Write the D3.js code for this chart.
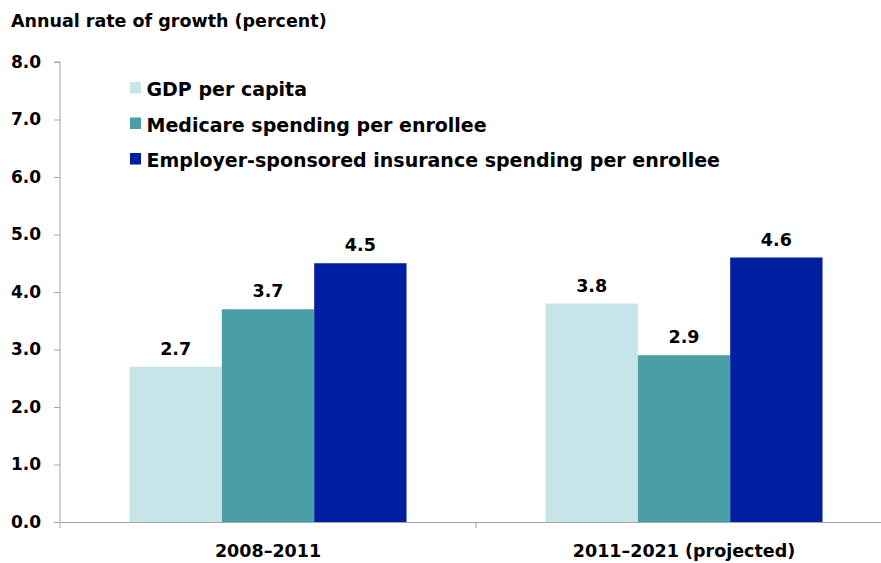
<!DOCTYPE html>
<html lang="en">
  <head>
    <meta charset="utf-8">
    <title>Annual rate of growth</title>
    <script src="https://d3js.org/d3.v7.min.js"></script>
    <style>
      body { margin: 0; background: white; }
      text { font-family: "DejaVu Sans", Arial, sans-serif; font-weight: bold; fill: black; }
    </style>
  </head>
  <body>
    <script>
      // data
      var categories = ["2008\u20132011", "2011\u20132021 (projected)"];
      var seriesNames = ["GDP per capita", "Medicare spending per enrollee", "Employer-sponsored insurance spending per enrollee"];
      var gdpValues = [2.7, 3.8];
      var medicareValues = [3.7, 2.9];
      var employerValues = [4.5, 4.6];
      var yTicks = [0, 1, 2, 3, 4, 5, 6, 7, 8];
      var colors = ["#c7e5e8", "#4a9ea6", "#001ea0"];

      var allSeries = [gdpValues, medicareValues, employerValues];

      var w = 881, h = 563;
      var margin = {top: 62, right: -11, bottom: 41, left: 60};
      var innerW = w - margin.left - margin.right;
      var innerH = h - margin.top - margin.bottom;
      var fontFam = "'DejaVu Sans', Arial, sans-serif";

      var svg = d3.select("body").append("svg")
          .attr("width", w)
          .attr("height", h);

      svg.append("text")
          .attr("x", 11)
          .attr("y", 27)
          .style("font-size", "17.5px")
          .text("Annual rate of growth (percent)");

      var g = svg.append("g")
          .attr("transform", `translate(${margin.left}, ${margin.top})`);

      var x0 = d3.scaleBand()
          .domain(categories)
          .range([0, innerW]);

      var x1 = d3.scaleBand()
          .domain(seriesNames)
          .range([x0.bandwidth() * 0.167, x0.bandwidth() * 0.833]);

      var y = d3.scaleLinear()
          .domain([0, 8])
          .range([innerH, 0]);

      // bars
      categories.forEach(function(c, ci) {
        seriesNames.forEach(function(s, si) {
          var v = allSeries[si][ci];
          g.append("rect")
              .attr("x", x0(c) + x1(s))
              .attr("y", y(v))
              .attr("width", x1.bandwidth())
              .attr("height", innerH - y(v))
              .attr("fill", colors[si]);
          g.append("text")
              .attr("x", x0(c) + x1(s) + x1.bandwidth() / 2)
              .attr("y", y(v) - 12)
              .attr("text-anchor", "middle")
              .style("font-size", "17.5px")
              .text(v.toFixed(1));
        });
      });

      // y axis
      var yAxis = d3.axisLeft(y)
          .tickValues(yTicks)
          .tickSize(6)
          .tickPadding(13)
          .tickFormat(d3.format(".1f"));

      var ya = g.append("g").call(yAxis);
      ya.selectAll("path, line").attr("stroke", "#a6a6a6");
      ya.select(".domain").attr("d", `M-6,0H0V${innerH}`);
      ya.selectAll("text")
          .style("font-size", "17px")
          .style("font-family", fontFam)
          .attr("fill", "black");

      // x axis
      var xAxis = d3.axisBottom(x0)
          .tickSize(0)
          .tickPadding(23);

      var xa = g.append("g")
          .attr("transform", `translate(0, ${innerH})`)
          .call(xAxis);
      xa.select(".domain").attr("stroke", "#a6a6a6");
      xa.selectAll("text")
          .style("font-size", "17.5px")
          .style("font-family", fontFam)
          .attr("fill", "black");
      // boundary tick marks between categories
      xa.selectAll(".sep")
          .data([0, x0.bandwidth()])
          .enter().append("line")
          .attr("x1", d => d)
          .attr("x2", d => d)
          .attr("y1", 0)
          .attr("y2", 6)
          .attr("stroke", "#a6a6a6");

      // legend
      var legend = svg.append("g")
          .attr("transform", "translate(130, 82)");
      seriesNames.forEach(function(s, i) {
        var row = legend.append("g").attr("transform", `translate(0, ${i * 35.5})`);
        row.append("rect")
            .attr("x", 0)
            .attr("y", 0)
            .attr("width", 11)
            .attr("height", 11.5)
            .attr("fill", colors[i]);
        row.append("text")
            .attr("x", 16.5)
            .attr("y", 14)
            .style("font-size", "19px")
            .text(s);
      });
    </script>
  </body>
</html>
